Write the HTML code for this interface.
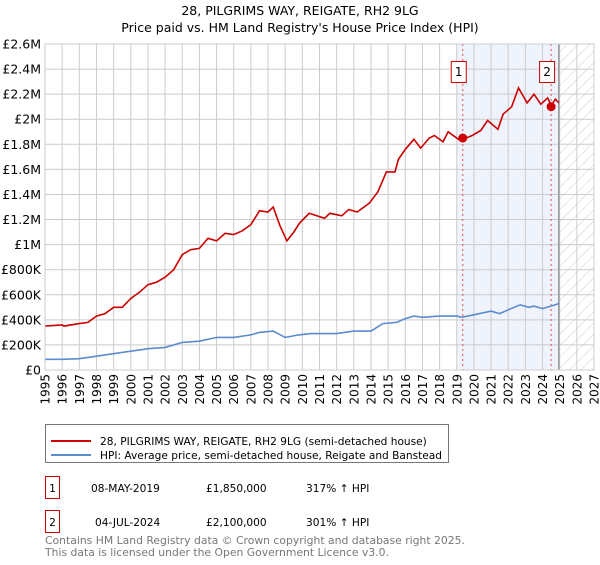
<!DOCTYPE html>
<html><head><meta charset="utf-8"><style>
body{margin:0;background:#fff;font-family:"Liberation Sans","DejaVu Sans",sans-serif;}
svg text{font-family:"DejaVu Sans","Liberation Sans",sans-serif;}
</style></head><body>
<svg id="chart" width="600" height="560" xmlns="http://www.w3.org/2000/svg">
<defs><pattern id="hatch" width="8" height="8" patternUnits="userSpaceOnUse" patternTransform="rotate(45)"><line x1="0" y1="0" x2="0" y2="8" stroke="#ccc" stroke-width="1"/></pattern></defs>
<text x="300" y="15" text-anchor="middle" font-size="12.5">28, PILGRIMS WAY, REIGATE, RH2 9LG</text>
<text x="300" y="32" text-anchor="middle" font-size="12.5">Price paid vs. HM Land Registry's House Price Index (HPI)</text>
<g id="plot"></g>
<g>
<rect x="45.5" y="424.5" width="403" height="38" fill="#fff" stroke="#777"/>
<line x1="51" y1="441" x2="91" y2="441" stroke="#cc0000" stroke-width="2"/>
<text x="100" y="445" font-size="10.6">28, PILGRIMS WAY, REIGATE, RH2 9LG (semi-detached house)</text>
<line x1="51" y1="455" x2="91" y2="455" stroke="#5b8bd0" stroke-width="2"/>
<text x="100" y="459" font-size="10.6">HPI: Average price, semi-detached house, Reigate and Banstead</text>
</g>
<g font-size="10.6">
<rect x="45.5" y="476.5" width="14" height="22" fill="#fff" stroke="#cc0000"/>
<text x="52.5" y="492" text-anchor="middle">1</text>
<text x="91" y="492">08-MAY-2019</text><text x="206" y="492">£1,850,000</text><text x="306" y="492">317% ↑ HPI</text>
</g>
<g font-size="10.6">
<rect x="45.5" y="510.5" width="14" height="22" fill="#fff" stroke="#cc0000"/>
<text x="52.5" y="526" text-anchor="middle">2</text>
<text x="95" y="526">04-JUL-2024</text><text x="206" y="526">£2,100,000</text><text x="306" y="526">301% ↑ HPI</text>
</g>
<text x="45" y="544" font-size="10.8" fill="#777">Contains HM Land Registry data © Crown copyright and database right 2025.</text>
<text x="45" y="556" font-size="10.8" fill="#777">This data is licensed under the Open Government Licence v3.0.</text>
</svg>
<script>
const yTicks=[0,200000,400000,600000,800000,1000000,1200000,1400000,1600000,1800000,2000000,2200000,2400000,2600000];
const yTickLabels=["£0","£200K","£400K","£600K","£800K","£1M","£1.2M","£1.4M","£1.6M","£1.8M","£2M","£2.2M","£2.4M","£2.6M"];
const xYears=[1995,1996,1997,1998,1999,2000,2001,2002,2003,2004,2005,2006,2007,2008,2009,2010,2011,2012,2013,2014,2015,2016,2017,2018,2019,2020,2021,2022,2023,2024,2025,2026,2027];
const redT=[1995,1996,1996.1,1997,1997.5,1998,1998.5,1999,1999.5,2000,2000.5,2001,2001.5,2002,2002.5,2003,2003.5,2004,2004.5,2005,2005.5,2006,2006.5,2007,2007.5,2008,2008.3,2008.7,2009.1,2009.5,2009.83,2010.4,2011.3,2011.6,2012.3,2012.7,2013.2,2013.9,2014.4,2014.9,2015.4,2015.6,2016.0,2016.5,2016.9,2017.4,2017.7,2018.2,2018.5,2018.9,2019.2,2019.9,2020.4,2020.8,2021.4,2021.7,2022.2,2022.6,2023.1,2023.5,2023.9,2024.3,2024.5,2024.75,2024.95];
const redV=[0.35,0.36,0.35,0.37,0.38,0.43,0.45,0.50,0.50,0.57,0.62,0.68,0.70,0.74,0.80,0.92,0.96,0.97,1.05,1.03,1.09,1.08,1.11,1.16,1.27,1.26,1.30,1.15,1.03,1.10,1.17,1.25,1.21,1.25,1.23,1.28,1.26,1.33,1.42,1.58,1.58,1.68,1.76,1.84,1.77,1.85,1.87,1.82,1.90,1.86,1.83,1.87,1.91,1.99,1.92,2.04,2.10,2.25,2.13,2.20,2.12,2.17,2.11,2.16,2.13];
const blueT=[1995,1996,1997,1998,1999,2000,2001,2002,2003,2004,2005,2006,2007,2007.5,2008.3,2009,2009.8,2010.5,2012,2013,2014,2014.7,2015.5,2016,2016.5,2017,2018,2019,2019.3,2020,2021,2021.5,2022,2022.7,2023.2,2023.5,2024,2024.75,2024.95];
const blueV=[0.085,0.085,0.09,0.11,0.13,0.15,0.17,0.18,0.22,0.23,0.26,0.26,0.28,0.30,0.31,0.26,0.28,0.29,0.29,0.31,0.31,0.37,0.38,0.41,0.43,0.42,0.43,0.43,0.42,0.44,0.47,0.45,0.48,0.52,0.50,0.51,0.49,0.52,0.53];
const saleT=[2019.35,2024.5];
const saleV=[1850000,2100000];
const saleLabels=["1","2"];
const X0=45,X1=594,Y0=370,Y1=44;
const xs=t=>X0+(t-1995)/(2027-1995)*(X1-X0);
const ys=v=>Y0-v/2600000*(Y0-Y1);
const NS="http://www.w3.org/2000/svg";
const g=document.getElementById('plot');
function mk(tag,attrs,parent){const e=document.createElementNS(NS,tag);for(const k in attrs)e.setAttribute(k,attrs[k]);(parent||g).appendChild(e);return e;}
let e;
e=mk('rect',{x:xs(2019),y:Y1,width:xs(2024.95)-xs(2019),height:Y0-Y1,fill:'#eef3fc'});


e=mk('rect',{x:xs(2024.95),y:Y1,width:X1-xs(2024.95),height:Y0-Y1,fill:'url(#hatch)'});


xYears.forEach(yr=>{
 e=mk('line',{x1:xs(yr),x2:xs(yr),y1:Y1,y2:Y0,stroke:'#ccc','stroke-width':1});
 
 
 e=mk('text',{x:0,y:0,'font-size':12,'text-anchor':'end',transform:`translate(${xs(yr)+4.5},374) rotate(-90)`});
 e.textContent=yr;
 
 
});
yTicks.forEach((v,i)=>{
 e=mk('line',{x1:X0,x2:X1,y1:ys(v),y2:ys(v),stroke:'#ccc','stroke-width':1});
 
 
 e=mk('text',{x:41,y:ys(v)+4.5,'font-size':12.5,'text-anchor':'end'});
 e.textContent=yTickLabels[i];
 
 
});
e=mk('line',{x1:xs(2024.95),x2:xs(2024.95),y1:Y1,y2:Y0,stroke:'#888','stroke-width':1.2});


saleT.forEach(t=>{
 e=mk('line',{x1:xs(t),x2:xs(t),y1:Y1,y2:Y0,stroke:'#e05050','stroke-width':1,'stroke-dasharray':'2,3'});
 
 
});
e=mk('path',{d:blueT.map((t,i)=>(i?'L':'M')+xs(t).toFixed(1)+','+ys(blueV[i]*1e6).toFixed(1)).join(''),fill:'none',stroke:'#5b8bd0','stroke-width':1.6});


e=mk('path',{d:redT.map((t,i)=>(i?'L':'M')+xs(t).toFixed(1)+','+ys(redV[i]*1e6).toFixed(1)).join(''),fill:'none',stroke:'#cc0000','stroke-width':1.6});


saleT.forEach((t,i)=>{
 e=mk('circle',{cx:xs(t),cy:ys(saleV[i]),r:4.5,fill:'#cc0000'});
 
 
 e=mk('rect',{x:xs(t)-11.5,y:61.5,width:15,height:21,fill:'#fff',stroke:'#cc0000'});
 
 
 e=mk('text',{x:xs(t)-4,y:76,'font-size':12,'text-anchor':'middle'});
 e.textContent=saleLabels[i];
 
 
});
e=mk('rect',{x:X0,y:Y1,width:X1-X0,height:Y0-Y1,fill:'none',stroke:'#ccc'});


</script>
</body></html>
